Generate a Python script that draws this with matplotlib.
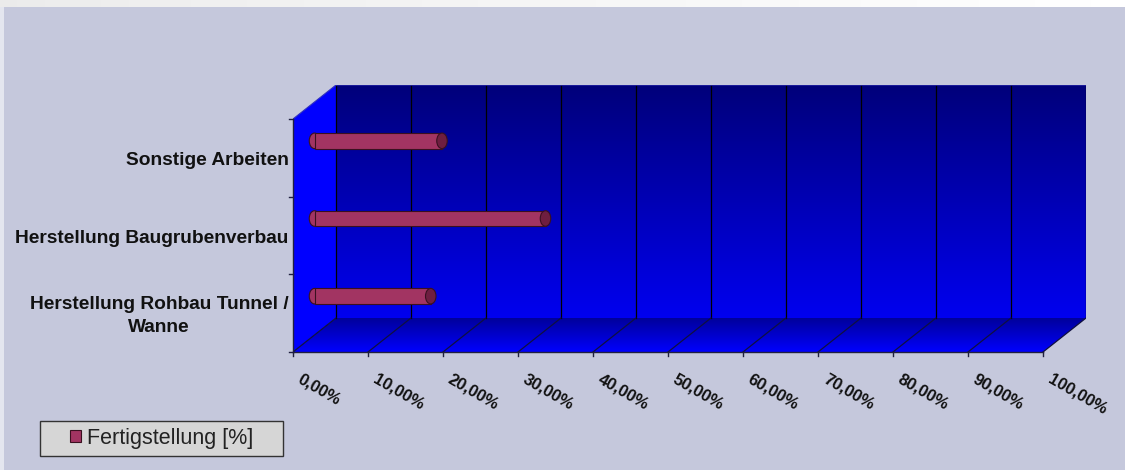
import numpy as np
import matplotlib
matplotlib.use("Agg")
import matplotlib.pyplot as plt
from matplotlib.patches import Polygon, Ellipse, Rectangle
from matplotlib.colors import LinearSegmentedColormap
import matplotlib.transforms as mtransforms

# ---- data ----
categories = ["Herstellung Rohbau Tunnel /\nWanne", "Herstellung Baugrubenverbau", "Sonstige Arbeiten"]
values = [15.5, 30.8, 17.0]          # Fertigstellung in %
x_ticks = [0, 10, 20, 30, 40, 50, 60, 70, 80, 90, 100]
x_tick_labels = ["0,00%", "10,00%", "20,00%", "30,00%", "40,00%", "50,00%",
                 "60,00%", "70,00%", "80,00%", "90,00%", "100,00%"]
series_name = "Fertigstellung [%]"

# ---- styling ----
BG = "#C5C8DC"
BAR = "#A23462"
BAR_DARK = "#6E1E40"
W, H = 1125, 470
fig = plt.figure(figsize=(W / 100, H / 100), dpi=100, facecolor=BG)

# header strip and left edge
hdr = fig.add_axes([0, 1 - 7 / H, 1, 7 / H])
hdr.imshow(np.linspace(0.85, 1.0, 200)[None, :], cmap="Greys_r", vmin=0, vmax=1,
           aspect="auto", extent=(0, 1, 0, 1))
hdr.axis("off")
fig.patches.append(Rectangle((0, 0), 4 / W, 1 - 7 / H, transform=fig.transFigure,
                             facecolor="#E4E6EF", edgecolor="none"))

left_px, right_px, bot_px, top_px = 293, 1086, 352, 85
ax = fig.add_axes([left_px / W, 1 - bot_px / H, (right_px - left_px) / W, (bot_px - top_px) / H])
ax.set_facecolor("none")
ax.axis("off")

D = 43 / 7.5           # depth offset along value axis
E = 102 / 233          # depth offset along category axis
n = len(categories)
y0, y1 = -0.5, n - 0.5
xmin, xmax = x_ticks[0], x_ticks[-1]

def grad_fill(poly_xy, c_top, c_bot, y_top, y_bot, z):
    cmap = LinearSegmentedColormap.from_list("g", [c_bot, c_top])
    poly = Polygon(poly_xy, closed=True, facecolor="none", edgecolor="none")
    ax.add_patch(poly)
    im = ax.imshow(np.linspace(0, 1, 256)[:, None], cmap=cmap, origin="lower",
                   aspect="auto", extent=(xmin, xmax + D, y_bot, y_top), zorder=z)
    im.set_clip_path(poly)

# back wall
grad_fill([(xmin + D, y0 + E), (xmax + D, y0 + E), (xmax + D, y1 + E), (xmin + D, y1 + E)],
          "#00007A", "#0000F0", y1 + E, y0 + E, 1)
# floor
grad_fill([(xmin, y0), (xmax, y0), (xmax + D, y0 + E), (xmin + D, y0 + E)],
          "#00009A", "#0000FF", y0 + E, y0, 1)
# left wall
ax.add_patch(Polygon([(xmin, y0), (xmin + D, y0 + E), (xmin + D, y1 + E), (xmin, y1)],
                     closed=True, facecolor="#0000FF", edgecolor="none", zorder=1))
ax.set_xlim(xmin, xmax + D)
ax.set_ylim(y0, y1 + E)

# gridlines
for t in x_ticks:
    ax.plot([t + D, t + D], [y0 + E, y1 + E], color="black", lw=0.9, zorder=2)
    ax.plot([t, t + D], [y0, y0 + E], color="#101040", lw=0.9, zorder=2)
ax.plot([xmin + D, xmax + D], [y1 + E, y1 + E], color="#2020A0", lw=1.2, zorder=2)
ax.plot([xmin, xmin + D], [y1, y1 + E], color="#3030C0", lw=0.8, zorder=2)

# axes lines with ticks
ax.plot([xmin, xmax], [y0, y0], color="#202040", lw=1.0, zorder=3, clip_on=False)
ax.plot([xmin, xmin], [y0, y1], color="#202040", lw=1.0, zorder=3, clip_on=False)
for t in x_ticks:
    ax.plot([t, t], [y0, y0 - 0.05], color="#202040", lw=1.0, zorder=3, clip_on=False)
for b in np.arange(n + 1) - 0.5:
    ax.plot([xmin, xmin - 0.5], [b, b], color="#202040", lw=1.0, zorder=3, clip_on=False)

# bars (cylinders at mid depth)
ypos = np.arange(n)
bh = 0.2
bars = ax.barh(ypos + E / 2, values, height=bh, left=D / 2, color=BAR,
               edgecolor="#3A1020", linewidth=0.8, zorder=4, label=series_name)
for yp, v in zip(ypos, values):
    ax.add_patch(Ellipse((D / 2 + v, yp + E / 2), width=1.4, height=bh,
                         facecolor=BAR_DARK, edgecolor="#3A1020", lw=0.8, zorder=5))
    ax.add_patch(Ellipse((D / 2, yp + E / 2), width=1.4, height=bh,
                         facecolor=BAR, edgecolor="#3A1020", lw=0.8, zorder=3.9))

# category labels
for yp, lab in zip(ypos, categories):
    ax.text(xmin - 0.6, yp - 0.04, lab, ha="right", va="center", multialignment="center",
            fontsize=13.8, fontweight="bold", family="Liberation Sans",
            color="#111111", linespacing=1.45, zorder=6, clip_on=False)

# value tick labels (rotated)
for t, lab in zip(x_ticks, x_tick_labels):
    tr = mtransforms.offset_copy(ax.transData, fig=fig, x=10, y=-19, units="dots")
    ax.text(t, y0, lab, transform=tr, rotation=-30, rotation_mode="anchor",
            ha="left", va="top", fontsize=12, fontweight="bold",
            family="Liberation Sans", color="#111111", clip_on=False)

# legend (box drawn separately to match the wide padding)
fig.patches.append(Rectangle((40 / W, 1 - 456 / H), 243 / W, 35 / H, transform=fig.transFigure,
                             facecolor="#D6D6D6", edgecolor="#333333", lw=1.0, zorder=5))
leg = fig.legend(handles=[bars], labels=[series_name], loc="center left",
                 bbox_to_anchor=(70 / W, 1 - 438.5 / H), frameon=False,
                 prop={"family": "Liberation Sans", "size": 15.5},
                 handlelength=0.5, handleheight=0.5, handletextpad=0.3,
                 borderpad=0, borderaxespad=0)
leg.set_zorder(6)
for txt in leg.get_texts():
    txt.set_color("#222222")

fig.savefig("out.png", dpi=100, facecolor=BG)
